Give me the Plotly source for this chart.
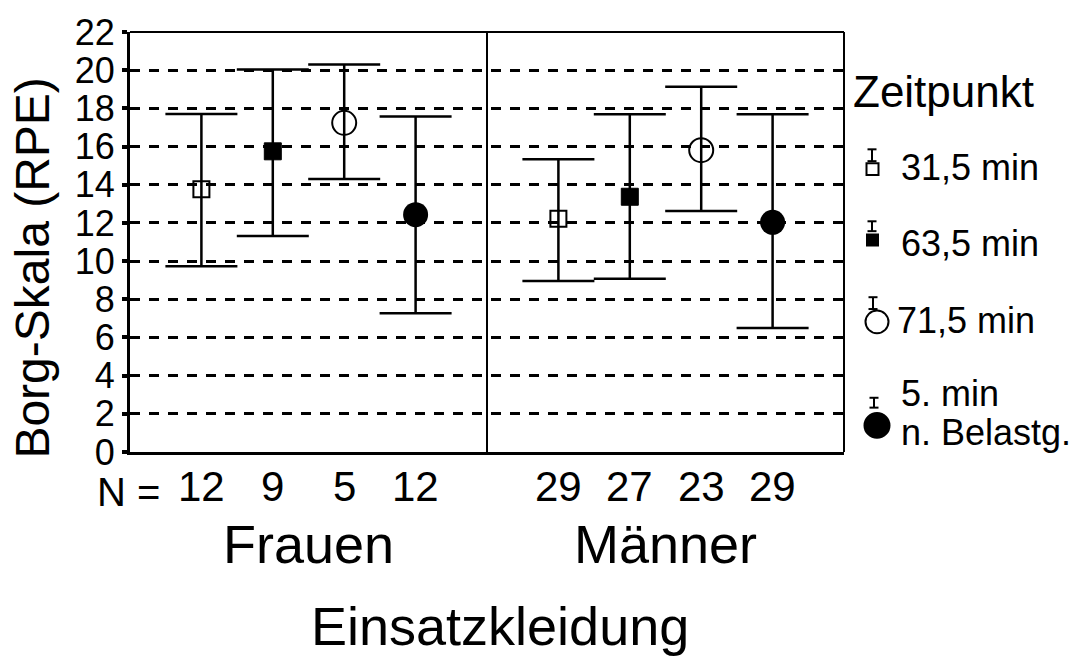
import plotly.graph_objects as go

# ---------------- data ----------------
groups = ["Frauen", "Männer"]
series_names = ["31,5 min", "63,5 min", "71,5 min", "5. min", "n. Belastg."]

mean_frauen = [13.76, 15.75, 17.24, 12.43]
upper_frauen = [17.70, 20.04, 20.30, 17.57]
lower_frauen = [9.73, 11.31, 14.30, 7.27]

mean_maenner = [12.22, 13.37, 15.81, 12.03]
upper_maenner = [15.33, 17.69, 19.13, 17.69]
lower_maenner = [8.96, 9.07, 12.62, 6.50]

n_frauen = [12, 9, 5, 12]
n_maenner = [29, 27, 23, 29]

y_ticks = [0, 2, 4, 6, 8, 10, 12, 14, 16, 18, 20, 22]

# ---------------- style ----------------
FONT = "Liberation Sans, Arial, sans-serif"
offsets = [-0.3, -0.1, 0.1, 0.3]
symbols = ["square-open", "square", "circle-open", "circle"]
sizes = [16, 17, 24, 25]
line_w = [2, 1, 2, 0]

W, H = 1085, 666
ML, MR, MT, MB = 130, 241, 26, 214
PW = W - ML - MR
PH = H - MT - MB


def px(x):
    return (x - ML) / PW


def py(y):
    return (H - MB - y) / PH


fig = go.Figure()

for i in range(4):
    means = [mean_frauen[i], mean_maenner[i]]
    ups = [upper_frauen[i] - mean_frauen[i], upper_maenner[i] - mean_maenner[i]]
    downs = [mean_frauen[i] - lower_frauen[i], mean_maenner[i] - lower_maenner[i]]
    fig.add_trace(go.Scatter(
        x=[g + 1 + offsets[i] for g in range(len(groups))],
        y=means,
        mode="markers",
        name=series_names[i],
        showlegend=False,
        marker=dict(symbol=symbols[i], size=sizes[i], color="black",
                    line=dict(color="black", width=line_w[i])),
        error_y=dict(type="data", symmetric=False, array=ups, arrayminus=downs,
                     color="black", thickness=2.5, width=36),
    ))

fig.update_layout(
    width=W, height=H,
    margin=dict(l=ML, r=MR, t=MT, b=MB, pad=0),
    plot_bgcolor="white", paper_bgcolor="white",
    font=dict(family=FONT, color="black"),
    xaxis=dict(range=[0.5, 2.5], showgrid=False, zeroline=False,
               showline=True, linewidth=3, linecolor="black",
               showticklabels=False, ticks=""),
    yaxis=dict(range=[0, 22], tickvals=y_ticks,
               ticktext=[str(v) for v in y_ticks],
               showgrid=True, gridcolor="black", gridwidth=2.5, griddash="10px,9px",
               zeroline=False, showline=True, linewidth=3, linecolor="black",
               ticks="outside", ticklen=5, tickwidth=4, tickcolor="black",
               tickfont=dict(size=36, family=FONT, color="black")),
)

shapes = [
    dict(type="line", xref="paper", yref="paper", x0=0, x1=1, y0=1, y1=1,
         line=dict(color="black", width=2)),
    dict(type="line", xref="paper", yref="paper", x0=1, x1=1, y0=0, y1=1,
         line=dict(color="black", width=2)),
    dict(type="line", xref="x", yref="paper", x0=1.5, x1=1.5, y0=0, y1=1,
         line=dict(color="black", width=2)),
]

# custom legend
leg_items = [
    # (kind, filled, cx, cy, size, icon_x, icon_top, icon_bottom)
    ("rect", False, 872.5, 165, 12, 872, 145, 157),
    ("rect", True, 872.5, 237, 11, 872, 218, 228),
    ("circle", False, 877, 320, 23, 873, 295, 307),
    ("circle", True, 877, 425, 25, 874, 397, 407),
]
for kind, filled, cx, cy, s, ix, it, ib in leg_items:
    h = s / 2
    shapes.append(dict(type=kind, xref="paper", yref="paper",
                       x0=px(cx - h), x1=px(cx + h), y0=py(cy + h), y1=py(cy - h),
                       line=dict(color="black", width=2),
                       fillcolor="black" if filled else "white"))
    shapes.append(dict(type="line", xref="paper", yref="paper",
                       x0=px(ix), x1=px(ix), y0=py(ib), y1=py(it),
                       line=dict(color="black", width=2)))
    for yy in (it, ib):
        shapes.append(dict(type="line", xref="paper", yref="paper",
                           x0=px(ix - 4.5), x1=px(ix + 4.5), y0=py(yy), y1=py(yy),
                           line=dict(color="black", width=2)))

fig.update_layout(shapes=shapes)

annotations = [
    dict(text="Borg-Skala (RPE)", xref="paper", yref="paper", x=px(33), y=py(266),
         xanchor="center", yanchor="middle", textangle=-90, showarrow=False,
         font=dict(size=48, family=FONT, color="black")),
    dict(text="N =", xref="paper", yref="paper", x=px(95), y=py(493),
         xanchor="left", yanchor="middle", showarrow=False,
         font=dict(size=40, family=FONT, color="black")),
    dict(text="Einsatzkleidung", xref="paper", yref="paper", x=px(500), y=py(628),
         xanchor="center", yanchor="middle", showarrow=False,
         font=dict(size=54, family=FONT, color="black")),
    dict(text="Zeitpunkt", xref="paper", yref="paper", x=px(851), y=py(86),
         xanchor="left", yanchor="middle", showarrow=False,
         font=dict(size=44, family=FONT, color="black")),
]
for g, name in enumerate(groups):
    annotations.append(dict(text=name, xref="x", yref="paper", x=g + 1, y=py(545),
                            xanchor="center", yanchor="middle", showarrow=False,
                            font=dict(size=54, family=FONT, color="black")))
for g, ns in enumerate([n_frauen, n_maenner]):
    for i in range(4):
        annotations.append(dict(text=str(ns[i]), xref="x", yref="paper",
                                x=g + 1 + offsets[i], y=py(487),
                                xanchor="center", yanchor="middle", showarrow=False,
                                font=dict(size=42, family=FONT, color="black")))

leg_text_pos = [(899, 163), (899, 241), (895, 319), (899, 393), (899, 432)]
for (tx, ty), name in zip(leg_text_pos, series_names):
    annotations.append(dict(text=name, xref="paper", yref="paper", x=px(tx), y=py(ty),
                            xanchor="left", yanchor="middle", align="left",
                            showarrow=False,
                            font=dict(size=36, family=FONT, color="black")))

fig.update_layout(annotations=annotations)

fig.write_html("out.html")
